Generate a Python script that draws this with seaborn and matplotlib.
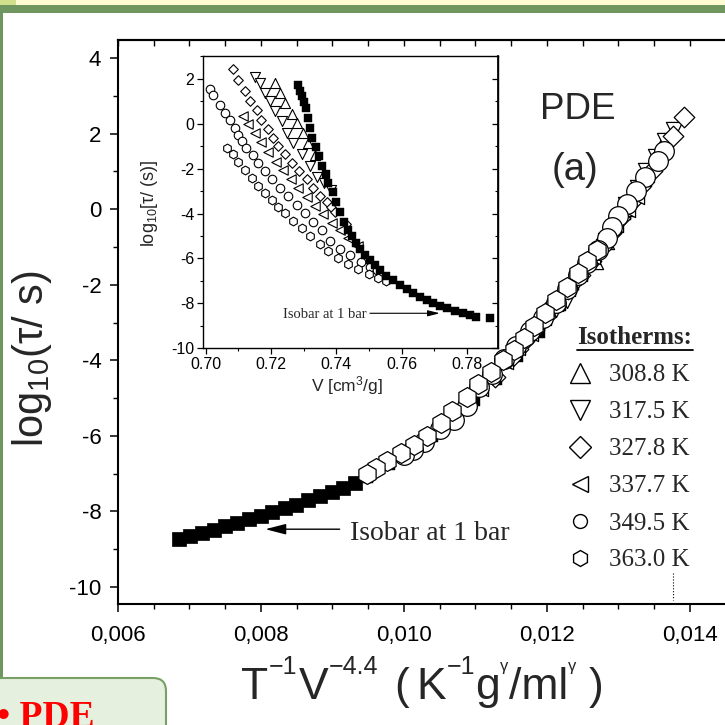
import matplotlib
matplotlib.use("Agg")
import matplotlib.pyplot as plt
import numpy as np
import pandas as pd
import seaborn as sns
from matplotlib.lines import Line2D
from matplotlib.patches import Rectangle, FancyBboxPatch
from matplotlib.ticker import MultipleLocator, FuncFormatter

# ---------------- data ----------------
GAMMA = 4.4  # density-scaling exponent of the x axis: T^-1 V^-4.4
temperatures = [308.8, 317.5, 327.8, 337.7, 349.5, 363.0]
iso_labels = ["308.8 K", "317.5 K", "327.8 K", "337.7 K", "349.5 K", "363.0 K"]
iso_markers = ["^", "v", "D", "<", "o", "h"]

# isotherms: specific volume V [cm3/g] and log10(tau/s)
v_3088 = [0.7212, 0.7228, 0.7243, 0.7263, 0.7279, 0.7299, 0.7314, 0.7334]
lt_3088 = [1.81, 1.37, 0.92, 0.45, 0.04, -0.40, -0.85, -1.38]

v_3175 = [0.7151, 0.7166, 0.7181, 0.7197, 0.7212, 0.7233, 0.7248, 0.7268, 0.7294,
          0.7319, 0.7340, 0.7362, 0.7385]
lt_3175 = [2.10, 1.81, 1.37, 1.00, 0.55, 0.11, -0.40, -0.85, -1.36, -1.88, -2.39,
           -2.65, -2.95]

v_3278 = [0.7083, 0.7100, 0.7120, 0.7136, 0.7156, 0.7171, 0.7190, 0.7207, 0.7222,
          0.7243, 0.7263, 0.7286, 0.7309, 0.7329, 0.7350, 0.7370, 0.7383, 0.7396, 0.7431]
lt_3278 = [2.43, 1.93, 1.44, 1.00, 0.60, 0.19, -0.23, -0.62, -1.00, -1.36, -1.73,
           -2.10, -2.47, -2.84, -3.21, -3.49, -3.70, -3.95, -4.45]

v_3377 = [0.7115, 0.7130, 0.7151, 0.7171, 0.7192, 0.7215, 0.7237, 0.7261, 0.7283,
          0.7309, 0.7334, 0.7360, 0.7386, 0.7411, 0.7437, 0.7467]
lt_3377 = [0.36, 0.01, -0.40, -0.80, -1.25, -1.68, -2.08, -2.48, -2.86, -3.28,
           -3.65, -4.03, -4.40, -4.72, -5.07, -5.45]

v_3495 = [0.7013, 0.7023, 0.7044, 0.7059, 0.7074, 0.7090, 0.7100, 0.7110, 0.7125,
          0.7144, 0.7161, 0.7181, 0.7202, 0.7227, 0.7253, 0.7279, 0.7304, 0.7329,
          0.7355, 0.7381, 0.7411, 0.7442, 0.7477, 0.7503, 0.7525]
lt_3495 = [1.54, 1.29, 0.85, 0.48, 0.15, -0.18, -0.48, -0.77, -1.07, -1.41, -1.73,
           -2.10, -2.47, -2.88, -3.23, -3.62, -3.97, -4.36, -4.71, -5.20, -5.57,
           -5.83, -6.15, -6.38, -6.50]

v_3630 = [0.7066, 0.7083, 0.7100, 0.7120, 0.7141, 0.7161, 0.7182, 0.7202, 0.7222,
          0.7243, 0.7268, 0.7294, 0.7319, 0.7350, 0.7375, 0.7406, 0.7437, 0.7467,
          0.7501, 0.7529, 0.7552]
lt_3630 = [-1.07, -1.36, -1.70, -2.05, -2.40, -2.75, -3.10, -3.40, -3.72, -3.98,
           -4.32, -4.62, -4.98, -5.35, -5.66, -6.00, -6.23, -6.45, -6.67, -6.86, -7.01]

# isobar at 1 bar (inset): V and log10(tau)
v_isobar = [0.7283, 0.7290, 0.7296, 0.7302, 0.7307, 0.7312, 0.7319, 0.7327, 0.7337,
            0.7347, 0.7357, 0.7367, 0.7375, 0.7389, 0.7399, 0.7411, 0.7423, 0.7435,
            0.7447, 0.7460, 0.7472, 0.7487, 0.7503, 0.7518, 0.7533, 0.7553, 0.7574,
            0.7594, 0.7615, 0.7636, 0.7656, 0.7677, 0.7697, 0.7718, 0.7738, 0.7763,
            0.7789, 0.7809, 0.7829, 0.7870]
lt_isobar = [1.73, 1.45, 1.22, 0.96, 0.70, 0.26, -0.18, -0.62, -1.02, -1.44, -1.88,
             -2.25, -2.65, -3.06, -3.50, -3.94, -4.38, -4.72, -5.02, -5.32, -5.57,
             -5.83, -6.08, -6.31, -6.53, -6.76, -6.97, -7.16, -7.34, -7.52, -7.70,
             -7.86, -8.00, -8.12, -8.22, -8.34, -8.44, -8.52, -8.59, -8.66]

# isobar at 1 bar in the scaled representation (main panel)
x_isobar_main = [0.00685, 0.00701, 0.00718, 0.00734, 0.00750, 0.00767, 0.00783,
                 0.00800, 0.00816, 0.00833, 0.00849, 0.00866, 0.00882, 0.00899,
                 0.00915, 0.00932, 0.00950, 0.00980, 0.01010, 0.01040, 0.01070,
                 0.01100, 0.01130, 0.01160, 0.01190, 0.01220, 0.01250, 0.01280,
                 0.01310, 0.01340, 0.01360]
lt_isobar_main = [-8.74, -8.66, -8.57, -8.48, -8.39, -8.30, -8.21, -8.11, -8.02,
                  -7.92, -7.82, -7.71, -7.60, -7.49, -7.38, -7.26, -7.12, -6.78,
                  -6.42, -6.02, -5.58, -5.08, -4.52, -3.92, -3.27, -2.55, -1.75,
                  -0.95, -0.15, 0.72, 1.35]

v_lists = [v_3088, v_3175, v_3278, v_3377, v_3495, v_3630]
lt_lists = [lt_3088, lt_3175, lt_3278, lt_3377, lt_3495, lt_3630]

rows = []
for T, lab, V, L in zip(temperatures, iso_labels, v_lists, lt_lists):
    for v, l in zip(V, L):
        rows.append(dict(T=T, label=lab, V=v, logtau=l,
                         scaled=1.0 / (T * v ** GAMMA)))
df = pd.DataFrame(rows)

# ---------------- style ----------------
sns.set_theme(style="ticks")
plt.rcParams["font.family"] = ["Liberation Sans", "DejaVu Sans"]
plt.rcParams["mathtext.fontset"] = "custom"
plt.rcParams["mathtext.rm"] = "Liberation Sans"
plt.rcParams["mathtext.it"] = "Liberation Sans:italic"
plt.rcParams["mathtext.bf"] = "Liberation Sans:bold"
plt.rcParams["axes.unicode_minus"] = False
plt.rcParams["axes.edgecolor"] = "black"
plt.rcParams["xtick.color"] = "black"
plt.rcParams["ytick.color"] = "black"

W = H = 725.0
def fx(p):
    return p / W
def fy(p):
    return 1.0 - p / H

fig = plt.figure(figsize=(7.25, 7.25), dpi=100)
fig.patch.set_facecolor("white")

# ---- slide decorations ----
green = "#709660"
fig.add_artist(Rectangle((0, fy(5)), 1, 5 / H, transform=fig.transFigure,
                         color="#FCFBD2", lw=0, zorder=0))
fig.add_artist(Rectangle((0, fy(5)), fx(16), 5 / H, transform=fig.transFigure,
                         color="#D2DF8C", lw=0, zorder=0))
fig.add_artist(Rectangle((0, fy(13)), 1, 8 / H, transform=fig.transFigure,
                         color=green, lw=0, zorder=0))
fig.add_artist(Rectangle((0, fy(680)), fx(3), (680 - 13) / H,
                         transform=fig.transFigure, color=green, lw=0, zorder=0))

# ---------------- main axes ----------------
x_lo, x_hi = 0.006, 0.01455
left_px, right_px = 118.0, 118.0 + (x_hi - x_lo) * 71500
ax = fig.add_axes([fx(left_px), fy(604), (right_px - left_px) / W, (604 - 40) / H])
ax.set_facecolor("none")

sns.scatterplot(x=x_isobar_main[:16], y=lt_isobar_main[:16], marker="s",
                color="black", edgecolor="black", linewidth=0.5, s=95, ax=ax,
                legend=False, zorder=2)
sns.scatterplot(x=x_isobar_main[16:], y=lt_isobar_main[16:], marker="s",
                color="black", edgecolor="black", linewidth=0.3, s=45, ax=ax,
                legend=False, zorder=2)
main_sizes = {"^": 135, "v": 135, "D": 110, "<": 135, "o": 200, "h": 205}
for lab, m in zip(iso_labels, iso_markers):
    sub = df[df["label"] == lab]
    sns.scatterplot(data=sub, x="scaled", y="logtau", marker=m, s=main_sizes[m],
                    color="white", edgecolor="black", linewidth=0.9, ax=ax,
                    legend=False, zorder=3)

ax.set_xlim(x_lo, x_hi)
ax.set_ylim(-10.45, 4.48)
ax.xaxis.set_major_locator(MultipleLocator(0.002))
ax.xaxis.set_minor_locator(MultipleLocator(0.0005))
ax.xaxis.set_major_formatter(FuncFormatter(lambda v, p: f"{v:.3f}".replace(".", ",")))
ax.yaxis.set_major_locator(MultipleLocator(2))
ax.yaxis.set_minor_locator(MultipleLocator(1))
ax.yaxis.set_major_formatter(FuncFormatter(lambda v, p: f"{v:.0f}"))
ax.tick_params(axis="both", which="major", direction="out", length=6, width=1.1,
               labelsize=16, colors="black")
ax.tick_params(axis="both", which="minor", direction="out", length=3.5, width=1.0)
ax.tick_params(axis="x", which="major", pad=9)
ax.tick_params(axis="y", which="major", pad=6)
for side in ["left", "bottom", "top"]:
    ax.spines[side].set_linewidth(1.5)
    ax.spines[side].set_color("black")
ax.spines["right"].set_visible(False)
ax.set_xlabel("")
ax.set_ylabel("log$_{10}$(τ/ s)", fontsize=30)
ax.yaxis.set_label_coords((32 - left_px) / (right_px - left_px), (604 - 358) / 564)
ax.yaxis.label.set_va("center")

sec_top = ax.secondary_xaxis("top")
sec_top.xaxis.set_major_locator(MultipleLocator(0.002))
sec_top.xaxis.set_minor_locator(MultipleLocator(0.0005))
sec_top.tick_params(which="both", direction="in", length=4, width=1.0,
                    labeltop=False)
sec_top.spines["top"].set_linewidth(1.5)

# annotation in main panel
ax.annotate("", xy=(0.00806, -8.47), xytext=(0.00910, -8.47),
            arrowprops=dict(arrowstyle="-|>,head_length=0.7,head_width=0.18",
                            color="black", lw=1.0, mutation_scale=18,
                            shrinkA=0, shrinkB=0))
ax.text(0.00925, -8.75, "Isobar at 1 bar", fontsize=20, va="baseline",
        ha="left", family=["Liberation Serif", "DejaVu Serif"])

# panel label
fig.text(fx(578), fy(119), "PDE", fontsize=26.5, ha="center", va="baseline")
fig.text(fx(575), fy(180), "(a)", fontsize=27.5, ha="center", va="baseline")

# legend
serif = ["Liberation Serif", "DejaVu Serif"]
fig.text(fx(577), fy(344), "Isotherms:", fontsize=18, fontweight="bold",
         family=serif, ha="left", va="baseline")
fig.add_artist(Line2D([fx(577), fx(693)], [fy(350), fy(350)],
                      transform=fig.transFigure, color="black", lw=1.3))
leg_ms = {"^": 14, "v": 14, "D": 11, "<": 12, "o": 10, "h": 11.5}
handles = [Line2D([], [], marker=m, ls="none", mfc="white", mec="black",
                  ms=leg_ms[m], mew=1.0) for m in iso_markers]
fig.legend(handles, iso_labels, loc="upper left",
           bbox_to_anchor=(fx(567.5), fy(364)), bbox_transform=fig.transFigure,
           frameon=False, prop=dict(family=serif, size=18), handlelength=1.0,
           handletextpad=0.66, labelspacing=0.58, borderpad=0, borderaxespad=0)

fig.add_artist(Line2D([fx(673), fx(673)], [fy(573), fy(600)],
                      transform=fig.transFigure, color="black", lw=0.8, ls=":"))

# ---------------- inset ----------------
axi = fig.add_axes([fx(202.7), fy(348.3), (498 - 202.7) / W, (348.3 - 56) / H])
axi.set_facecolor("white")
inset_sizes = {"^": 52, "v": 52, "D": 24, "<": 46, "o": 38, "h": 40}
for lab, m in zip(iso_labels, iso_markers):
    sub = df[df["label"] == lab]
    sns.scatterplot(data=sub, x="V", y="logtau", marker=m, s=inset_sizes[m],
                    color="white", edgecolor="black", linewidth=0.8, ax=axi,
                    legend=False, zorder=3)
sns.scatterplot(x=v_isobar, y=lt_isobar, marker="s", color="black",
                edgecolor="black", linewidth=0.3, s=30, ax=axi, legend=False,
                zorder=4)
axi.set_xlim(0.6991, 0.7895)
axi.set_ylim(-10, 3.02)
axi.xaxis.set_major_locator(MultipleLocator(0.02))
axi.xaxis.set_minor_locator(MultipleLocator(0.01))
axi.xaxis.set_major_formatter(FuncFormatter(lambda v, p: f"{v:.2f}"))
axi.yaxis.set_major_locator(MultipleLocator(2))
axi.yaxis.set_minor_locator(MultipleLocator(1))
axi.yaxis.set_major_formatter(FuncFormatter(lambda v, p: f"{v:.0f}"))
axi.tick_params(axis="both", which="major", direction="out", length=4, width=0.9,
                labelsize=11.5, pad=2)
axi.tick_params(axis="both", which="minor", direction="out", length=2.5, width=0.8)
for side in axi.spines:
    axi.spines[side].set_linewidth(1.0)
    axi.spines[side].set_color("black")
sec_r = axi.secondary_yaxis("right")
sec_r.yaxis.set_major_locator(MultipleLocator(2))
sec_r.yaxis.set_minor_locator(MultipleLocator(1))
sec_r.tick_params(which="major", direction="in", length=4, width=0.9, labelright=False)
sec_r.tick_params(which="minor", direction="in", length=2.5, width=0.8)
axi.set_xlabel("V [cm$^3$/g]", fontsize=12.5)
axi.set_ylabel("log$_{10}$[τ/ (s)]", fontsize=13)
axi.xaxis.set_label_coords(0.49, (348.3 - 386) / 292.3)
axi.xaxis.label.set_va("center")
axi.yaxis.set_label_coords((150 - 202.7) / 295.3, (348.3 - 203) / 292.3)
axi.yaxis.label.set_va("center")

axi.annotate("", xy=(0.7717, -8.44), xytext=(0.7503, -8.44),
             arrowprops=dict(arrowstyle="-|>,head_length=0.6,head_width=0.15",
                             color="black", lw=0.8, mutation_scale=12,
                             shrinkA=0, shrinkB=0))
axi.text(0.72375, -8.63, "Isobar at 1 bar", fontsize=10.5, va="baseline",
         ha="left", family=serif)

# ---------------- x label built from pieces ----------------
renderer = fig.canvas.get_renderer()
pieces = [("T", 32, 0, 0), ("−1", 18, 25, 1), ("V", 32, 0, 1), ("−4.4", 18, 25, 1),
          ("(", 32, 0, 16), ("K", 32, 0, 7), ("−1", 18, 25, 1), ("g", 32, 0, 0),
          ("γ", 12, 28, 0), ("/ml", 32, 0, 0), ("γ", 12, 28, 0), (")", 32, 0, 12)]
txts = []
cur = 0.0
for s, size, rise, gap in pieces:
    cur += gap
    t = fig.text(0, 0, s, fontsize=size, ha="left", va="baseline")
    w = t.get_window_extent(renderer=renderer).width
    txts.append((t, cur, rise))
    cur += w
start = 422.0 - cur / 2.0
baseline = 699.0
for t, off, rise in txts:
    t.set_position((fx(start + off), fy(baseline - rise)))

# ---------------- bottom-left slide box ----------------
fig.add_artist(FancyBboxPatch((fx(-12), fy(760)), 178 / W, 82 / H,
                              boxstyle="round,pad=0,rounding_size=0.018",
                              transform=fig.transFigure, facecolor="#E6F0DE",
                              edgecolor="#76A065", lw=1.5, zorder=5))
fig.text(fx(-3), fy(727), "• PDE", fontsize=27, fontweight="bold",
         color="#FF0000", family=serif, ha="left", va="baseline", zorder=6)

fig.savefig("out.png", dpi=100)
